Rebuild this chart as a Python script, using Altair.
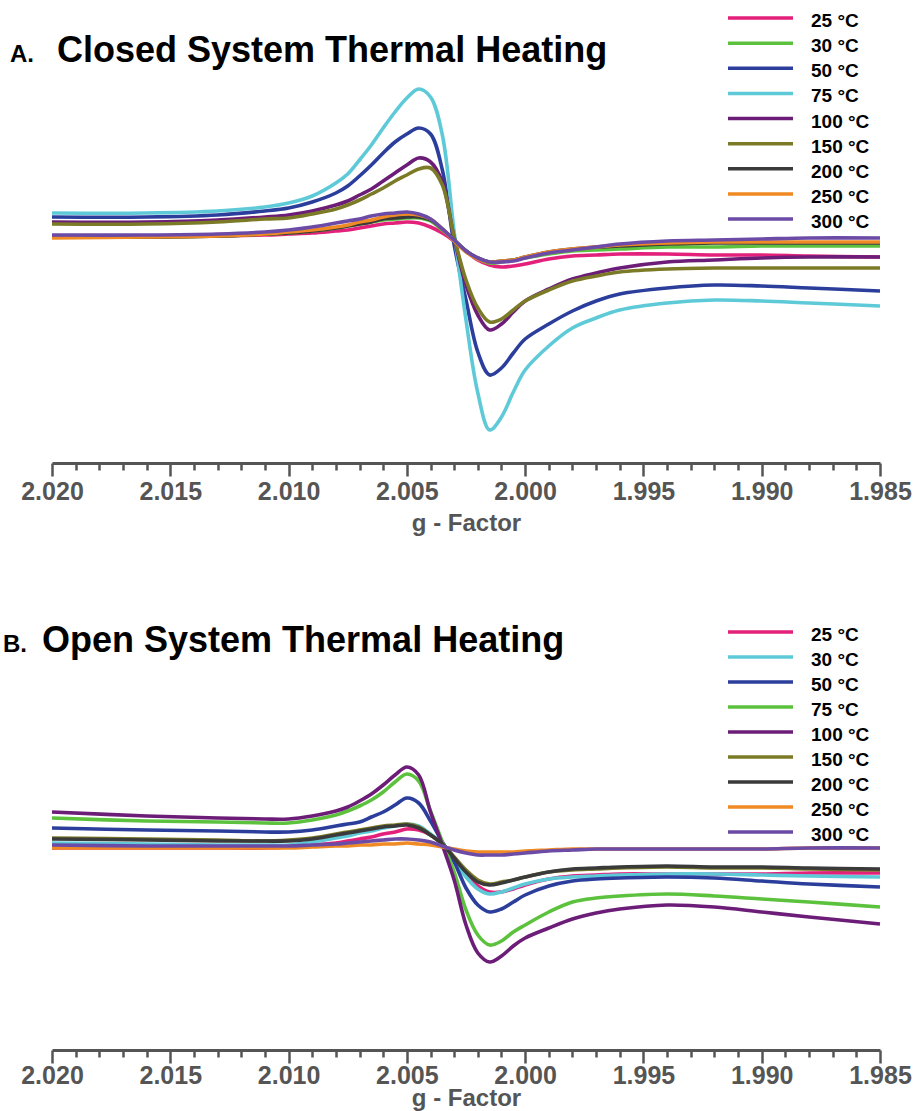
import altair as alt
import pandas as pd

# g-factor sample positions (shared by all spectra)
G = [2.020, 2.016, 2.013, 2.011, 2.010, 2.009, 2.008, 2.0075, 2.007, 2.0065, 2.006, 2.0055,
     2.005, 2.0045, 2.004, 2.0035, 2.003, 2.0025, 2.002, 2.0015, 2.001, 2.0005, 2.000,
     1.999, 1.998, 1.997, 1.996, 1.994, 1.992, 1.990, 1.988, 1.985]

TEMPS = ["25 °C", "30 °C", "50 °C", "75 °C", "100 °C", "150 °C", "200 °C", "250 °C", "300 °C"]

# Panel A: closed system (arbitrary intensity units)
A_25 = [3, 3, 4, 5, 6, 7, 9, 10, 12, 14, 16, 17, 18, 17, 13, 7, -1, -11, -20, -25, -27, -26, -24, -19, -16, -15, -14, -14, -15, -15, -16, -17]
A_30 = [3, 3, 4, 6, 7, 9, 12, 14, 16, 18, 20, 21, 22, 22, 19, 10, 0, -11, -19, -23, -22, -20, -18, -14, -11, -10, -9, -7, -7, -6, -6, -6]
A_50 = [23, 23, 25, 29, 32, 38, 47, 54, 64, 75, 87, 98, 106, 112, 106, 70, -5, -60, -112, -135, -128, -113, -99, -84, -71, -61, -54, -48, -45, -46, -48, -51]
A_75 = [27, 27, 29, 33, 37, 44, 57, 66, 80, 95, 112, 128, 142, 151, 143, 105, 8, -80, -153, -190, -177, -152, -130, -106, -88, -78, -70, -63, -60, -61, -63, -66]
A_100 = [18, 18, 20, 23, 25, 29, 35, 39, 45, 51, 59, 67, 75, 82, 78, 58, 2, -45, -75, -90, -84, -72, -61, -49, -39, -33, -28, -22, -20, -18, -17, -17]
A_150 = [16, 16, 18, 21, 22, 26, 31, 35, 40, 46, 52, 59, 65, 71, 72, 55, 3, -40, -68, -82, -79, -70, -61, -50, -41, -36, -32, -29, -28, -28, -28, -28]
A_200 = [3, 3, 4, 6, 7, 9, 12, 14, 16, 18, 21, 22, 23, 23, 20, 11, 0, -11, -18, -22, -21, -20, -17, -12, -9, -7, -6, -4, -3, -3, -3, -3]
A_250 = [2, 3, 4, 6, 8, 10, 13, 15, 18, 20, 23, 25, 26, 25, 21, 11, -1, -12, -19, -22, -21, -20, -17, -12, -9, -7, -5, -3, -2, -2, -2, -2]
A_300 = [5, 5, 6, 8, 10, 13, 17, 19, 21, 24, 26, 27, 28, 26, 21, 11, 0, -11, -18, -22, -22, -21, -18, -13, -10, -7, -4, -1, 0, 1, 2, 2]

# Panel B: open system
B_25 = [-1, -1, -1, -1, 0, 2, 4, 6, 8, 10, 13, 15, 18, 17, 12, 3, -11, -27, -39, -45, -45, -42, -38, -32, -29, -28, -27, -27, -27, -27, -26, -26]
B_30 = [4, 3, 2, 2, 2, 5, 9, 11, 14, 16, 19, 21, 23, 21, 13, 3, -13, -30, -42, -47, -45, -41, -37, -32, -30, -29, -28, -27, -27, -28, -29, -30]
B_50 = [19, 17, 16, 15, 15, 17, 21, 23, 25, 30, 35, 42, 49, 44, 26, 5, -15, -41, -58, -65, -62, -55, -48, -39, -34, -32, -31, -30, -31, -34, -37, -40]
B_75 = [29, 26, 25, 24, 24, 27, 32, 36, 41, 47, 55, 65, 73, 66, 36, 5, -25, -63, -88, -98, -94, -85, -78, -65, -55, -51, -49, -47, -49, -52, -55, -60]
B_100 = [35, 31, 29, 28, 28, 31, 36, 40, 46, 53, 62, 72, 80, 72, 35, 2, -33, -78, -106, -115, -109, -99, -91, -81, -72, -66, -62, -58, -60, -65, -70, -77]
B_150 = [9, 8, 7, 6, 7, 9, 13, 15, 17, 19, 21, 22, 23, 20, 12, 3, -10, -23, -33, -37, -35, -33, -30, -25, -23, -22, -21, -20, -21, -21, -22, -23]
B_200 = [8, 7, 6, 6, 6, 8, 12, 14, 16, 18, 20, 21, 22, 19, 12, 3, -11, -25, -35, -38, -36, -33, -30, -25, -22, -21, -20, -19, -20, -20, -21, -22]
B_250 = [-1, -1, -1, -1, -1, 0, 1, 1, 2, 2, 3, 3, 4, 3, 2, 0, -2, -4, -5, -5, -5, -5, -4, -3, -2, -2, -2, -2, -2, -2, -1, -1]
B_300 = [2, 1, 1, 1, 1, 2, 3, 4, 5, 6, 7, 8, 8, 7, 5, 1, -3, -6, -8, -8, -8, -7, -6, -4, -3, -2, -2, -2, -2, -2, -1, -1]

COLORS_A = ["#e3217a", "#5cc23e", "#2c3e9c", "#5ecad8", "#6c1d78", "#7b7b27", "#3a3a3a", "#f08a24", "#6c4ba6"]
COLORS_B = ["#e3217a", "#5ecad8", "#2c3e9c", "#5cc23e", "#6c1d78", "#7b7b27", "#3a3a3a", "#f08a24", "#6c4ba6"]

MAJOR_TICKS = [2.020, 2.015, 2.010, 2.005, 2.000, 1.995, 1.990, 1.985]
TICKS = [round(MAJOR_TICKS[0] - 0.001 * i, 3) for i in range(36)]

FONT = "Liberation Sans"
GREY = "#555555"
W = 828
LEFT = 52  # plot area left edge in page pixels


def long_df(series):
    rows = []
    for t, vals in zip(TEMPS, series):
        for g, v in zip(G, vals):
            rows.append({"g": g, "intensity": v, "temp": t})
    return pd.DataFrame(rows)


def panel(series, colors, ydom, height, letter, title, letter_x, title_x, title_y,
          leg_range, label_pad, title_pad, frame_y):
    df = long_df(series)
    cscale = alt.Scale(domain=TEMPS, range=colors)
    axis = alt.Axis(
        values=TICKS,
        labelExpr="abs(round(datum.value*1000)) % 5 == 0 ? format(datum.value, '.3f') : ''",
        tickSize={"condition": {"test": "abs(round(datum.value*1000)) % 5 == 0", "value": 13}, "value": 7},
        tickWidth=2.5, tickColor=GREY, domainColor=GREY, domainWidth=3,
        labelFont=FONT, labelFontWeight="bold", labelFontSize=25, labelColor=GREY,
        labelPadding=label_pad, labelOverlap=False, labelFlush=False,
        title="g - Factor", titleFont=FONT, titleFontSize=24, titleFontWeight="bold",
        titleColor=GREY, titlePadding=title_pad, grid=False,
    )
    lines = alt.Chart(df).mark_line(strokeWidth=3.6, interpolate="catmull-rom").encode(
        x=alt.X("g:Q", scale=alt.Scale(domain=[2.020, 1.985], nice=False, zero=False), axis=axis),
        y=alt.Y("intensity:Q", scale=alt.Scale(domain=ydom, nice=False, zero=False), axis=None),
        color=alt.Color("temp:N", scale=cscale, legend=None),
    )
    leg = pd.DataFrame({"temp": TEMPS, "row": list(range(len(TEMPS)))})
    rscale = alt.Scale(domain=[0, len(TEMPS) - 1], range=leg_range, nice=False, zero=False)
    rules = alt.Chart(leg).mark_rule(strokeWidth=3.5).encode(
        x=alt.value(676), x2=alt.value(741),
        y=alt.Y("row:Q", scale=rscale, axis=None),
        color=alt.Color("temp:N", scale=cscale, legend=None),
    )
    labels = alt.Chart(leg).mark_text(
        align="left", baseline="middle", dy=3, fontSize=19, fontWeight="bold", font=FONT, color="black"
    ).encode(
        x=alt.value(759),
        y=alt.Y("row:Q", scale=rscale, axis=None),
        text="temp:N",
    )
    t1 = alt.Chart(pd.DataFrame({"t": [letter]})).mark_text(
        align="left", baseline="alphabetic", fontSize=24, fontWeight="bold", font=FONT, color="black"
    ).encode(x=alt.value(letter_x), y=alt.value(title_y), text="t:N")
    t2 = alt.Chart(pd.DataFrame({"t": [title]})).mark_text(
        align="left", baseline="alphabetic", fontSize=36, fontWeight="bold", font=FONT, color="black"
    ).encode(x=alt.value(title_x), y=alt.value(title_y), text="t:N")
    # invisible frame line that pins the page edge for the autosize bounds
    frame = alt.Chart(pd.DataFrame({"k": [0]})).mark_rule(strokeWidth=1, opacity=0).encode(
        x=alt.value(-LEFT), x2=alt.value(921 - LEFT), y=alt.value(frame_y)
    )
    return alt.layer(lines, rules, labels, t1, t2, frame).resolve_scale(y="independent").properties(
        width=W, height=height
    )


pA = panel([A_25, A_30, A_50, A_75, A_100, A_150, A_200, A_250, A_300], COLORS_A,
           [-223, 230], 453, "A.", "Closed System Thermal Heating", -42, 5, 52,
           [8, 209], 3, 7, -9.5)
pB = panel([B_25, B_30, B_50, B_75, B_100, B_150, B_200, B_250, B_300], COLORS_B,
           [-203, 247], 450, "B.", "Open System Thermal Heating", -49, -10, 52,
           [32, 232], 0, -2, 510.5)

chart = alt.vconcat(pA, pB, spacing=137, bounds="flush").resolve_scale(
    color="independent"
).properties(
    padding=0,
).configure_view(stroke=None)

chart.save("out.html", embed_options={"renderer": "svg", "actions": False})
